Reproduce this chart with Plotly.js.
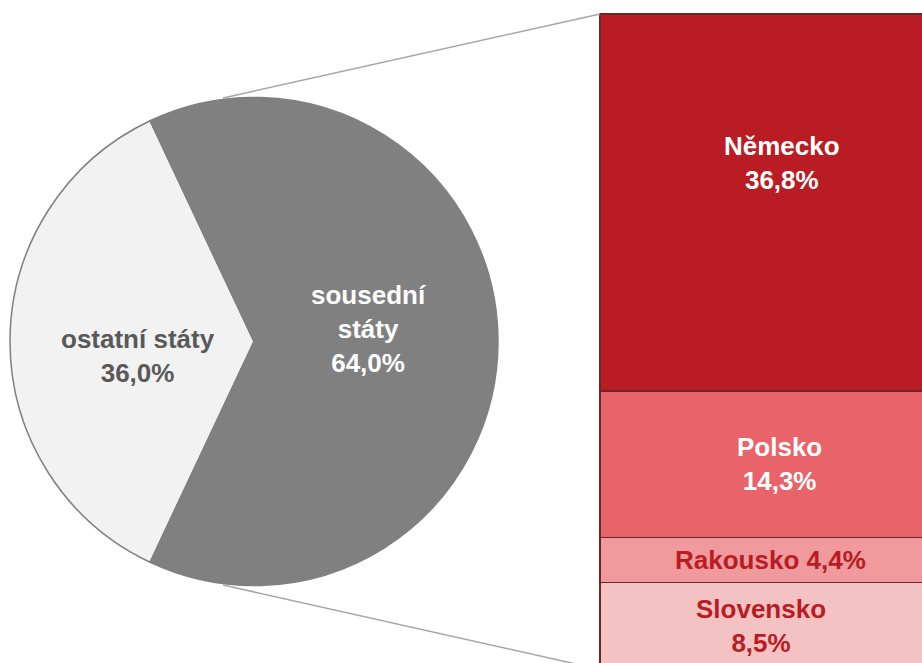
<!DOCTYPE html>
<html>
<head>
<meta charset="utf-8">
<script src="https://cdn.plot.ly/plotly-3.0.1.min.js"></script>
<style>html,body{margin:0;padding:0;background:#fff;}#chart{width:922px;height:663px;}</style>
</head>
<body>
<div id="chart"></div>
<script>
// ---- data ----
const pieLabels = ['ostatní státy', 'sousední státy'];
const pieValues = [36.0, 64.0];
const barLabels = ['Slovensko', 'Rakousko', 'Polsko', 'Německo']; // bottom to top
const barValues = [8.5, 4.4, 14.3, 36.8];

// ---- styles ----
const pieColors = ['#f2f2f2', '#808080'];
const pieTextColors = ['#595959', '#ffffff'];
const pieLabelText = ['ostatní státy', 'sousední<br>státy'];
const pieLabelPos = [[138, 356], [368, 329]]; // px
const barColors = ['#f5c2c4', '#f09a9d', '#e8636a', '#b91c22'];
const barTextColors = ['#b91c22', '#b91c22', '#ffffff', '#ffffff'];
const barOneLine = [false, true, false, false];
const barShift = [[-20, 0], [-11, 0], [-2, 0], [1, 39]];
const W = 922, H = 663;
const FONT = 'Liberation Sans, Arial, sans-serif';

const fmt = v => v.toFixed(1).replace('.', ',') + '%';

// pie geometry (px)
const pcx = 254, pcy = 341.5, pr = 244;

const traces = [];
traces.push({
  type: 'pie',
  labels: pieLabels,
  values: pieValues,
  sort: false,
  direction: 'clockwise',
  rotation: 205.2,
  marker: {colors: pieColors, line: {color: '#7f7f7f', width: 1.5}},
  textinfo: 'none',
  hoverinfo: 'none',
  showlegend: false,
  domain: {x: [(pcx - pr) / W, (pcx + pr) / W], y: [(H - pcy - pr) / H, (H - pcy + pr) / H]}
});

barLabels.forEach((lab, i) => {
  traces.push({
    type: 'bar',
    x: [0],
    y: [barValues[i]],
    width: 1,
    name: lab,
    marker: {color: barColors[i], line: {color: '#6b2626', width: 1.5}},
    hoverinfo: 'none',
    showlegend: false,
    xaxis: 'x', yaxis: 'y'
  });
});

// axis scales
const barLeftPx = 600, barWidthPx = 362, domLeftPx = 590;
const xs = -0.5 - (barLeftPx - domLeftPx) / barWidthPx;
const xe = xs + (W - domLeftPx) / barWidthPx;
const total = barValues.reduce((a, b) => a + b, 0);
const pxPer = 10.24, topPx = 14;
const yTop = total + topPx / pxPer;
const yBot = yTop - H / pxPer;

const annotations = [];
pieLabels.forEach((lab, i) => {
  annotations.push({
    xref: 'paper', yref: 'paper',
    x: pieLabelPos[i][0] / W, y: 1 - pieLabelPos[i][1] / H,
    xanchor: 'center', yanchor: 'middle',
    text: pieLabelText[i] + '<br>' + fmt(pieValues[i]),
    showarrow: false,
    font: {family: FONT, size: 26, color: pieTextColors[i], weight: 700}
  });
});
let cum = 0;
barLabels.forEach((lab, i) => {
  const mid = cum + barValues[i] / 2;
  cum += barValues[i];
  annotations.push({
    xref: 'x', yref: 'y', x: 0, y: mid,
    xanchor: 'center', yanchor: 'middle',
    xshift: barShift[i][0], yshift: barShift[i][1],
    text: lab + (barOneLine[i] ? ' ' : '<br>') + fmt(barValues[i]),
    showarrow: false,
    font: {family: FONT, size: 26, color: barTextColors[i], weight: 700}
  });
});

// connector lines (pie edge -> bar corners)
const bx = barLeftPx / W;
const yTopPaper = 1 - topPx / H;
const yBottomPaper = 1 - (topPx + total * pxPer) / H;
const shapes = [
  {type: 'line', xref: 'paper', yref: 'paper', x0: 223 / W, y0: 1 - 98 / H, x1: bx, y1: yTopPaper, line: {color: '#a6a6a6', width: 1.5}},
  {type: 'line', xref: 'paper', yref: 'paper', x0: 223 / W, y0: 1 - 585 / H, x1: bx, y1: yBottomPaper, line: {color: '#a6a6a6', width: 1.5}}
];

const layout = {
  width: W, height: H,
  margin: {l: 0, r: 0, t: 0, b: 0},
  paper_bgcolor: '#ffffff', plot_bgcolor: 'rgba(0,0,0,0)',
  barmode: 'stack',
  bargap: 0,
  showlegend: false,
  xaxis: {domain: [domLeftPx / W, 1], range: [xs, xe], visible: false, fixedrange: true},
  yaxis: {domain: [0, 1], range: [yBot, yTop], visible: false, fixedrange: true},
  annotations: annotations,
  shapes: shapes,
  font: {family: FONT}
};

Plotly.newPlot('chart', traces, layout, {displayModeBar: false, staticPlot: true});
</script>
</body>
</html>
